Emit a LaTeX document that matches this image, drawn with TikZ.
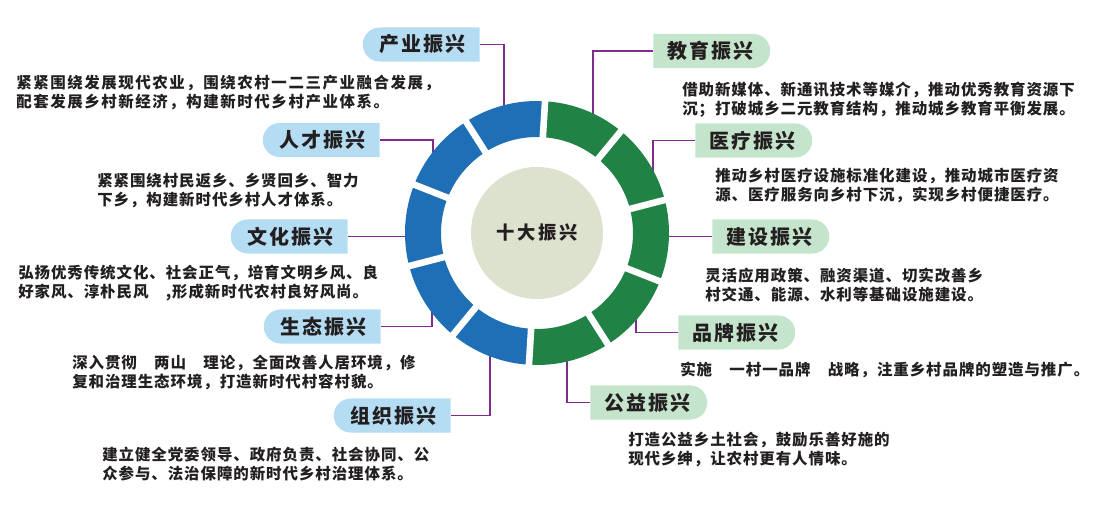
\documentclass[tikz,border=0pt]{standalone}
\usepackage{fontspec}
\usepackage{tikz}
\usetikzlibrary{shapes.misc}
\newfontfamily\cjk[LetterSpace=6]{Noto Sans CJK SC}
\newfontfamily\cjkwide[LetterSpace=10]{Noto Sans CJK SC}
\newfontfamily\cjktag[LetterSpace=10]{Noto Sans CJK SC}
\newfontfamily\cjkhub[LetterSpace=15]{Noto Sans CJK SC}
\definecolor{ringblue}{HTML}{1E6FB5}
\definecolor{ringgreen}{HTML}{218245}
\definecolor{tagblue}{HTML}{B4DDF3}
\definecolor{taggreen}{HTML}{C4E4CB}
\definecolor{linkcol}{HTML}{7E2D8C}
\definecolor{hubcol}{HTML}{DDE2CF}
\definecolor{inkcol}{HTML}{231F20}
\tikzset{
  tagleft/.style={rounded rectangle, rounded rectangle right arc=none, fill=tagblue, anchor=east,
    minimum width=83.2pt, minimum height=24.2pt, inner sep=0pt, text=inkcol,
    font=\fontsize{14.2pt}{16pt}\selectfont\cjktag\bfseries},
  tagright/.style={rounded rectangle, rounded rectangle left arc=none, fill=taggreen, anchor=west,
    minimum width=83.2pt, minimum height=24.2pt, inner sep=0pt, text=inkcol,
    font=\fontsize{14.2pt}{16pt}\selectfont\cjktag\bfseries},
  desc/.style={anchor=north west, inner sep=0pt, align=left, text=inkcol,
    font=\fontsize{11pt}{13.5pt}\selectfont\cjk\bfseries},
  link/.style={draw=linkcol, line width=1.1pt}
}
\begin{document}
\begin{tikzpicture}[x=0.025cm, y=-0.025cm]
	\useasboundingbox (0,0) rectangle (1100,510);
	%\draw [help lines, step=50] (0,0) grid (1100,510);
	\node [circle, fill=hubcol, minimum size=93.9pt, inner sep=0pt, text=inkcol,
	       font=\fontsize{13pt}{15pt}\selectfont\cjkhub\bfseries] (hub) at (537,233) {十大振兴};
	%Etichette sinistra
	\node [tagleft] (cy) at (480,44.5) {产业振兴};
	\node [tagleft] (rc) at (380,140) {人才振兴};
	\node [tagleft] (wh) at (348,236.5) {文化振兴};
	\node [tagleft] (st) at (381,326.5) {生态振兴};
	\node [tagleft] (zz) at (451,415.5) {组织振兴};
	%Etichette destra
	\node [tagright] (jy) at (653,51) {教育振兴};
	\node [tagright] (yl) at (695,140.5) {医疗振兴};
	\node [tagright] (js) at (712,236.5) {建设振兴};
	\node [tagright] (pp) at (678,332.5) {品牌振兴};
	\node [tagright] (gy) at (590,402.5) {公益振兴};
	%Testi
	\node [desc, font=\fontsize{11pt}{13.5pt}\selectfont\cjkwide\bfseries] (cyT) at (16,75) {紧紧围绕发展现代农业，围绕农村一二三产业融合发展，\\配套发展乡村新经济，构建新时代乡村产业体系。};
	\node [desc] (rcT) at (97,173) {紧紧围绕村民返乡、乡贤回乡、智力\\下乡，构建新时代乡村人才体系。};
	\node [desc] (whT) at (18,265) {弘扬优秀传统文化、社会正气，培育文明乡风、良\\好家风、淳朴民风　,形成新时代农村良好风尚。};
	\node [desc] (stT) at (72,355) {深入贯彻　两山　理论，全面改善人居环境，修\\复和治理生态环境，打造新时代村容村貌。};
	\node [desc] (zzT) at (102,447) {建立健全党委领导、政府负责、社会协同、公\\众参与、法治保障的新时代乡村治理体系。};
	\node [desc] (jyT) at (682,82) {借助新媒体、新通讯技术等媒介，推动优秀教育资源下\\沉；打破城乡二元教育结构，推动城乡教育平衡发展。};
	\node [desc] (ylT) at (715,168) {推动乡村医疗设施标准化建设，推动城市医疗资\\源、医疗服务向乡村下沉，实现乡村便捷医疗。};
	\node [desc] (jsT) at (705,268) {灵活应用政策、融资渠道、切实改善乡\\村交通、能源、水利等基础设施建设。};
	\node [desc] (ppT) at (680,362) {实施　一村一品牌　战略，注重乡村品牌的塑造与推广。};
	\node [desc] (gyT) at (628,432) {打造公益乡土社会，鼓励乐善好施的\\现代乡绅，让农村更有人情味。};
	%Punti sull'anello
	\coordinate (cyR) at (504,115);
	\coordinate (rcR) at (433,160);
	\coordinate (whR) at (415,236.5);
	\coordinate (stR) at (432,300);
	\coordinate (zzR) at (490,345);
	\coordinate (jyR) at (593,120);
	\coordinate (ylR) at (653,178);
	\coordinate (jsR) at (660,236.5);
	\coordinate (ppR) at (636,305);
	\coordinate (gyR) at (567,350);
	\draw [link] (cy.east) -| (cyR);
	\draw [link] (rc.east) -| (rcR);
	\draw [link] (wh.east) -- (whR);
	\draw [link] (st.east) -| (stR);
	\draw [link] (zz.east) -| (zzR);
	\draw [link] (jy.west) -| (jyR);
	\draw [link] (yl.west) -| (ylR);
	\draw [link] (js.west) -- (jsR);
	\draw [link] (pp.west) -| (ppR);
	\draw [link] (gy.west) -| (gyR);
	%Anello
	\draw [ringblue, line width=25.6pt] ([shift={(93.5:114)}]hub.center) arc [start angle=93.5, end angle=273.5, radius=114];
	\draw [ringgreen, line width=25.6pt] ([shift={(273.5:114)}]hub.center) arc [start angle=273.5, end angle=453.5, radius=114];
	\foreach \a in {93.5,129.5,...,437.5}
		\draw [white, line width=4.7pt] ([shift={(\a:90)}]hub.center) -- ([shift={(\a:138)}]hub.center);
\end{tikzpicture}
\end{document}
